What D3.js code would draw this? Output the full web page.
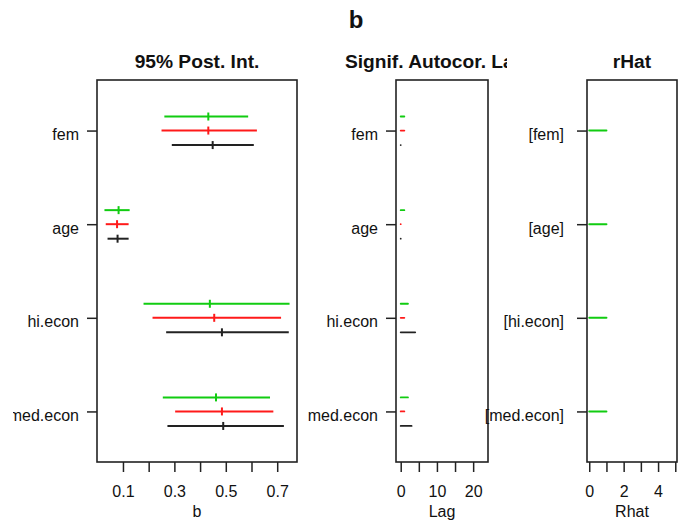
<!DOCTYPE html>
<html>
<head>
<meta charset="utf-8">
<script src="https://cdn.jsdelivr.net/npm/d3@7/dist/d3.min.js"></script>
<style>
  html, body { margin: 0; padding: 0; background: #fff; }
  svg { display: block; font-family: "Liberation Sans", Arial, sans-serif; }
</style>
</head>
<body>
<svg id="chart" width="678" height="529"></svg>
<script>
// Parameters, top to bottom
const params = ["fem", "age", "hi.econ", "med.econ"];

// 95% posterior intervals per chain: lower, median, upper
const greenLo  = [0.261, 0.028, 0.180, 0.255];
const greenMid = [0.432, 0.083, 0.438, 0.462];
const greenHi  = [0.587, 0.126, 0.748, 0.672];
const redLo    = [0.250, 0.033, 0.215, 0.303];
const redMid   = [0.432, 0.077, 0.455, 0.485];
const redHi    = [0.621, 0.122, 0.715, 0.685];
const blackLo  = [0.290, 0.040, 0.268, 0.273];
const blackMid = [0.449, 0.079, 0.485, 0.490];
const blackHi  = [0.609, 0.122, 0.745, 0.726];

// Significant autocorrelation lag per chain
const greenLag = [1, 1, 2, 2];
const redLag   = [1, 0, 1, 1];
const blackLag = [0, 0, 4, 3];

// Gelman-Rubin Rhat
const rhat = [1.0, 1.0, 1.0, 1.0];

// Axis ticks and the subset that gets labels
const bTicks = [0.1, 0.2, 0.3, 0.4, 0.5, 0.6, 0.7];
const bLabels = [0.1, 0.3, 0.5, 0.7];
const lagTicks = [0, 5, 10, 15, 20];
const lagLabels = [0, 10, 20];
const rhatTicks = [0, 1, 2, 3, 4, 5];
const rhatLabels = [0, 2, 4];

const chainColors = ["#11cc11", "#ff1a1a", "#222222"];
const chainOffsets = [-0.15, 0, 0.155];

const svg = d3.select("#chart");
const plotTop = 80, plotBottom = 462;

const y = d3.scaleLinear().domain([0.46, 4.54]).range([plotTop, plotBottom]);

// clipping regions for the panels
const defs = svg.append("defs");
defs.append("clipPath").attr("id", "clip1")
  .append("rect").attr("x", 13).attr("y", 0).attr("width", 320).attr("height", 529);
defs.append("clipPath").attr("id", "clip2")
  .append("rect").attr("x", 300).attr("y", 0).attr("width", 207).attr("height", 529);

function panel(g, x, title, xTicks, xLabels, xTitle, fmt, labelGap, labelFn, titleShift) {
  const [x0, x1] = x.range();
  g.append("text")
    .attr("x", (x0 + x1) / 2 + titleShift).attr("y", 68)
    .attr("text-anchor", "middle")
    .attr("font-size", 19.2).attr("font-weight", "bold")
    .attr("fill", "#111")
    .text(title);

  // y axis
  const ya = g.append("g").attr("transform", `translate(${x0},0)`)
    .call(d3.axisLeft(y).tickValues([1, 2, 3, 4]).tickSize(10)
      .tickFormat(i => labelFn(params[i - 1])));
  ya.select(".domain").remove();
  ya.selectAll(".tick line").attr("stroke", "#222").attr("stroke-width", 1.5);
  ya.selectAll(".tick text")
    .attr("x", -labelGap).attr("dy", "0.56em")
    .attr("font-size", 16).attr("font-family", "Liberation Sans, Arial, sans-serif")
    .attr("fill", "#111");

  // x axis
  const xa = g.append("g").attr("transform", `translate(0,${plotBottom})`)
    .call(d3.axisBottom(x).tickValues(xTicks).tickSize(10)
      .tickFormat(v => xLabels.some(l => Math.abs(l - v) < 1e-9) ? fmt(v) : ""));
  xa.select(".domain").remove();
  xa.selectAll(".tick line").attr("stroke", "#222").attr("stroke-width", 1.5);
  xa.selectAll(".tick text")
    .attr("y", 0).attr("dy", 0).attr("transform", "translate(0,35)")
    .attr("font-size", 16).attr("font-family", "Liberation Sans, Arial, sans-serif")
    .attr("fill", "#111");

  g.append("text")
    .attr("x", (x0 + x1) / 2).attr("y", 517)
    .attr("text-anchor", "middle").attr("font-size", 16).attr("fill", "#111")
    .text(xTitle);

  g.append("rect")
    .attr("x", x0).attr("y", plotTop).attr("width", x1 - x0).attr("height", plotBottom - plotTop)
    .attr("fill", "none").attr("stroke", "#222").attr("stroke-width", 1.6);
}

// ---- Panel 1: posterior intervals
const xB = d3.scaleLinear().domain([-0.001, 0.777]).range([97, 297]);
const g1 = svg.append("g").attr("clip-path", "url(#clip1)");
panel(g1, xB, "95% Post. Int.", bTicks, bLabels, "b", d3.format(".1f"), 18, s => s, 0);

const chainsInt = [
  [greenLo, greenMid, greenHi],
  [redLo, redMid, redHi],
  [blackLo, blackMid, blackHi]
];
chainsInt.forEach(([lo, mid, hi], c) => {
  params.forEach((p, i) => {
    const yy = y(i + 1 + chainOffsets[c]);
    g1.append("line")
      .attr("x1", xB(lo[i])).attr("x2", xB(hi[i]))
      .attr("y1", yy).attr("y2", yy)
      .attr("stroke", chainColors[c]).attr("stroke-width", 2);
    g1.append("line")
      .attr("x1", xB(mid[i])).attr("x2", xB(mid[i]))
      .attr("y1", yy - 4).attr("y2", yy + 4)
      .attr("stroke", chainColors[c]).attr("stroke-width", 2);
  });
});

// ---- Panel 2: significant autocorrelation lags
const xLag = d3.scaleLinear().domain([-1.3, 24.1]).range([396, 488]);
const g2 = svg.append("g");
const g2t = svg.append("g").attr("clip-path", "url(#clip2)");
panel(g2t, xLag, "Signif. Autocor. Lags", lagTicks, lagLabels, "Lag", d3.format("d"), 18, s => s, -1.5);

[greenLag, redLag, blackLag].forEach((lag, c) => {
  params.forEach((p, i) => {
    const yy = y(i + 1 + chainOffsets[c]);
    g2.append("line")
      .attr("x1", xLag(0)).attr("x2", xLag(lag[i]))
      .attr("y1", yy).attr("y2", yy)
      .attr("stroke", chainColors[c]).attr("stroke-width", 1.8)
      .attr("stroke-linecap", "round");
  });
});

// ---- Panel 3: Rhat
const xR = d3.scaleLinear().domain([-0.13, 5.1]).range([587, 677]);
const g3 = svg.append("g");
panel(g3, xR, "rHat", rhatTicks, rhatLabels, "Rhat", d3.format("d"), 23, s => "[" + s + "]", 0);

params.forEach((p, i) => {
  const yy = y(i + 1);
  g3.append("line")
    .attr("x1", xR(0)).attr("x2", xR(rhat[i]))
    .attr("y1", yy).attr("y2", yy)
    .attr("stroke", chainColors[0]).attr("stroke-width", 2)
    .attr("stroke-linecap", "round");
});

// ---- Overall title
svg.append("text")
  .attr("x", 356).attr("y", 28)
  .attr("text-anchor", "middle")
  .attr("font-size", 24).attr("font-weight", "bold").attr("fill", "#111")
  .text("b");
</script>
</body>
</html>
